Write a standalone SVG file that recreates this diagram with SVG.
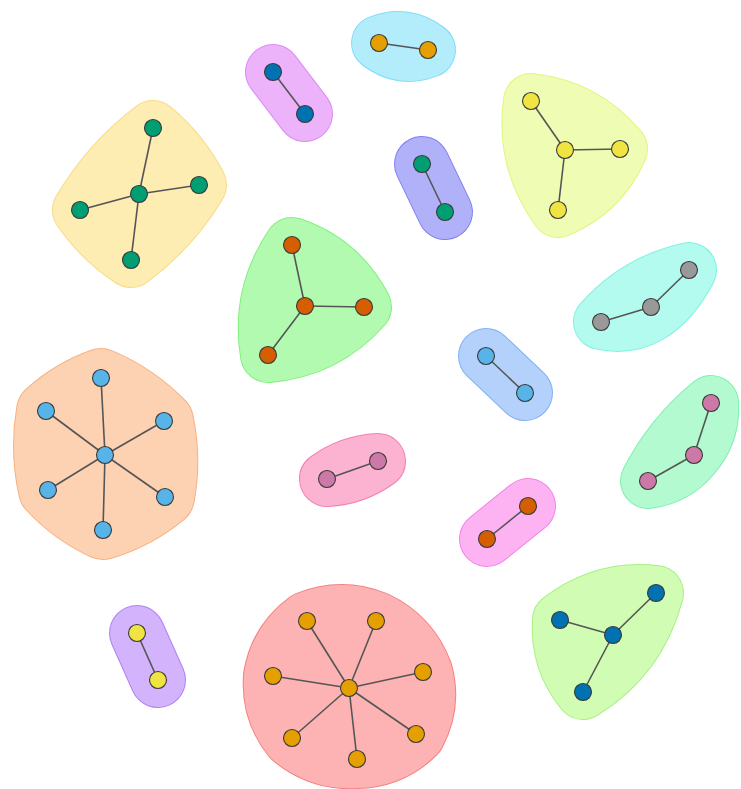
<svg xmlns="http://www.w3.org/2000/svg" width="741" height="789" viewBox="0 0 741 789">
<style>
.hb{fill:none;stroke-linejoin:round;stroke-linecap:round;stroke-width:56}
.hf{stroke-linejoin:round;stroke-linecap:round;stroke-width:54}
.big .hb{stroke-width:60}
.big .hf{stroke-width:58}
#edges line{stroke:#555;stroke-width:1.6}
.n circle{stroke:#3a3a3a;stroke-width:1.1}
.c1{fill:#009e73}.c2{fill:#0072b2}.c3{fill:#e69f00}.c4{fill:#f0e442}.c5{fill:#d55e00}.c6{fill:#56b4e9}.c7{fill:#cc79a7}.c8{fill:#999999}
</style>
<rect width="741" height="789" fill="#fff"/>
<g id="clusters">
<g id="h1"><path class="hb" stroke="#f8dc88" d="M153,128 Q181.7,151.9 199,185 Q172.4,229.2 131,260 Q100.5,240.1 80,210 Q108.3,161.7 153,128 Z"/><path class="hf" fill="#fdedb2" stroke="#fdedb2" d="M153,128 Q181.7,151.9 199,185 Q172.4,229.2 131,260 Q100.5,240.1 80,210 Q108.3,161.7 153,128 Z"/></g>
<g id="h2"><path class="hb" stroke="#dc8cf5" d="M273,72 L305,114 Z"/><path class="hf" fill="#ecb3fb" stroke="#ecb3fb" d="M273,72 L305,114 Z"/></g>
<g id="h3"><path class="hb" stroke="#80dcf8" d="M379,43 Q405.5,32.6 428,50 Q401.5,60.4 379,43 Z"/><path class="hf" fill="#b3edfc" stroke="#b3edfc" d="M379,43 Q405.5,32.6 428,50 Q401.5,60.4 379,43 Z"/></g>
<g id="h4"><path class="hb" stroke="#e2f580" d="M531,101 Q585.1,107.2 620,149 Q601.2,191.9 558,210 Q522.7,160.9 531,101 Z"/><path class="hf" fill="#effcb3" stroke="#effcb3" d="M531,101 Q585.1,107.2 620,149 Q601.2,191.9 558,210 Q522.7,160.9 531,101 Z"/></g>
<g id="h5"><path class="hb" stroke="#8080f0" d="M422,164 L445,212 Z"/><path class="hf" fill="#b1b1fa" stroke="#b1b1fa" d="M422,164 L445,212 Z"/></g>
<g id="h6"><path class="hb" stroke="#80f07e" d="M292,245 Q340.4,261.6 364,307 Q325.6,350.2 268,355 Q258,295.2 292,245 Z"/><path class="hf" fill="#b3fab1" stroke="#b3fab1" d="M292,245 Q340.4,261.6 364,307 Q325.6,350.2 268,355 Q258,295.2 292,245 Z"/></g>
<g id="h7"><path class="hb" stroke="#80f2e0" d="M601,322 Q636,282 689,270 Q655,334 601,322 Z"/><path class="hf" fill="#b3fbee" stroke="#b3fbee" d="M601,322 Q636,282 689,270 Q655,334 601,322 Z"/></g>
<g id="h8"><path class="hb" stroke="#80b0f5" d="M486,356 L525,393 Z"/><path class="hf" fill="#b3d1fb" stroke="#b3d1fb" d="M486,356 L525,393 Z"/></g>
<g id="h9" class="big"><path class="hb" stroke="#f8b080" d="M101,378 Q136.8,393.2 164,421 Q172.1,458.9 165,497 Q137.3,519.7 103,530 Q71.5,515.5 48,490 Q39.1,450.7 46,411 Q70.2,389 101,378 Z"/><path class="hf" fill="#fdd2b3" stroke="#fdd2b3" d="M101,378 Q136.8,393.2 164,421 Q172.1,458.9 165,497 Q137.3,519.7 103,530 Q71.5,515.5 48,490 Q39.1,450.7 46,411 Q70.2,389 101,378 Z"/></g>
<g id="h10"><path class="hb" stroke="#f580b3" d="M327,479 Q349.8,462.5 378,461 Q355.2,477.5 327,479 Z"/><path class="hf" fill="#fcb3d1" stroke="#fcb3d1" d="M327,479 Q349.8,462.5 378,461 Q355.2,477.5 327,479 Z"/></g>
<g id="h11"><path class="hb" stroke="#80f0b0" d="M711,403 Q713,432.4 694,455 Q676.2,477.2 648,481 Q671,436 711,403 Z"/><path class="hf" fill="#b3fad0" stroke="#b3fad0" d="M711,403 Q713,432.4 694,455 Q676.2,477.2 648,481 Q671,436 711,403 Z"/></g>
<g id="h12"><path class="hb" stroke="#f580e8" d="M487,539 L528,506 Z"/><path class="hf" fill="#fdb3f2" stroke="#fdb3f2" d="M487,539 L528,506 Z"/></g>
<g id="h13"><path class="hb" stroke="#b080f5" d="M137,633 L158,680 Z"/><path class="hf" fill="#d2b3fc" stroke="#d2b3fc" d="M137,633 L158,680 Z"/></g>
<g id="h14" class="big"><path class="hb" stroke="#f58080" d="M307,621 Q341.5,607.2 376,621 Q409.7,637.1 423,672 Q431.9,704.4 416,734 Q391.5,758.3 357,759 Q320.3,761.5 292,738 Q270.1,710.8 273,676 Q279,641.7 307,621 Z"/><path class="hf" fill="#fdb3b3" stroke="#fdb3b3" d="M307,621 Q341.5,607.2 376,621 Q409.7,637.1 423,672 Q431.9,704.4 416,734 Q391.5,758.3 357,759 Q320.3,761.5 292,738 Q270.1,710.8 273,676 Q279,641.7 307,621 Z"/></g>
<g id="h15"><path class="hb" stroke="#a8f080" d="M560,620 Q602.6,587.2 656,593 Q639.3,657.1 583,692 Q557.2,660.6 560,620 Z"/><path class="hf" fill="#d1fcb3" stroke="#d1fcb3" d="M560,620 Q602.6,587.2 656,593 Q639.3,657.1 583,692 Q557.2,660.6 560,620 Z"/></g>
</g>
<g id="edges">
<line x1="139" y1="194" x2="153" y2="128"/><line x1="139" y1="194" x2="199" y2="185"/><line x1="139" y1="194" x2="80" y2="210"/><line x1="139" y1="194" x2="131" y2="260"/>
<line x1="273" y1="72" x2="305" y2="114"/>
<line x1="379" y1="43" x2="428" y2="50"/>
<line x1="565" y1="150" x2="531" y2="101"/><line x1="565" y1="150" x2="620" y2="149"/><line x1="565" y1="150" x2="558" y2="210"/>
<line x1="422" y1="164" x2="445" y2="212"/>
<line x1="305" y1="306" x2="292" y2="245"/><line x1="305" y1="306" x2="364" y2="307"/><line x1="305" y1="306" x2="268" y2="355"/>
<line x1="601" y1="322" x2="651" y2="307"/><line x1="651" y1="307" x2="689" y2="270"/>
<line x1="486" y1="356" x2="525" y2="393"/>
<line x1="105" y1="455" x2="101" y2="378"/><line x1="105" y1="455" x2="46" y2="411"/><line x1="105" y1="455" x2="164" y2="421"/><line x1="105" y1="455" x2="48" y2="490"/><line x1="105" y1="455" x2="165" y2="497"/><line x1="105" y1="455" x2="103" y2="530"/>
<line x1="327" y1="479" x2="378" y2="461"/>
<line x1="711" y1="403" x2="694" y2="455"/><line x1="694" y1="455" x2="648" y2="481"/>
<line x1="487" y1="539" x2="528" y2="506"/>
<line x1="137" y1="633" x2="158" y2="680"/>
<line x1="349" y1="688" x2="307" y2="621"/><line x1="349" y1="688" x2="376" y2="621"/><line x1="349" y1="688" x2="423" y2="672"/><line x1="349" y1="688" x2="273" y2="676"/><line x1="349" y1="688" x2="292" y2="738"/><line x1="349" y1="688" x2="357" y2="759"/><line x1="349" y1="688" x2="416" y2="734"/>
<line x1="613" y1="635" x2="560" y2="620"/><line x1="613" y1="635" x2="656" y2="593"/><line x1="613" y1="635" x2="583" y2="692"/>
</g>
<g id="nodes">
<g id="n1" class="n"><circle class="c1" cx="139" cy="194" r="8.5"/></g>
<g id="n2" class="n"><circle class="c1" cx="153" cy="128" r="8.5"/></g>
<g id="n3" class="n"><circle class="c1" cx="199" cy="185" r="8.5"/></g>
<g id="n4" class="n"><circle class="c1" cx="80" cy="210" r="8.5"/></g>
<g id="n5" class="n"><circle class="c1" cx="131" cy="260" r="8.5"/></g>
<g id="n6" class="n"><circle class="c2" cx="273" cy="72" r="8.5"/></g>
<g id="n7" class="n"><circle class="c2" cx="305" cy="114" r="8.5"/></g>
<g id="n8" class="n"><circle class="c3" cx="379" cy="43" r="8.5"/></g>
<g id="n9" class="n"><circle class="c3" cx="428" cy="50" r="8.5"/></g>
<g id="n10" class="n"><circle class="c4" cx="565" cy="150" r="8.5"/></g>
<g id="n11" class="n"><circle class="c4" cx="531" cy="101" r="8.5"/></g>
<g id="n12" class="n"><circle class="c4" cx="620" cy="149" r="8.5"/></g>
<g id="n13" class="n"><circle class="c4" cx="558" cy="210" r="8.5"/></g>
<g id="n14" class="n"><circle class="c1" cx="422" cy="164" r="8.5"/></g>
<g id="n15" class="n"><circle class="c1" cx="445" cy="212" r="8.5"/></g>
<g id="n16" class="n"><circle class="c5" cx="305" cy="306" r="8.5"/></g>
<g id="n17" class="n"><circle class="c5" cx="292" cy="245" r="8.5"/></g>
<g id="n18" class="n"><circle class="c5" cx="364" cy="307" r="8.5"/></g>
<g id="n19" class="n"><circle class="c5" cx="268" cy="355" r="8.5"/></g>
<g id="n20" class="n"><circle class="c8" cx="601" cy="322" r="8.5"/></g>
<g id="n21" class="n"><circle class="c8" cx="651" cy="307" r="8.5"/></g>
<g id="n22" class="n"><circle class="c8" cx="689" cy="270" r="8.5"/></g>
<g id="n23" class="n"><circle class="c6" cx="486" cy="356" r="8.5"/></g>
<g id="n24" class="n"><circle class="c6" cx="525" cy="393" r="8.5"/></g>
<g id="n25" class="n"><circle class="c6" cx="105" cy="455" r="8.5"/></g>
<g id="n26" class="n"><circle class="c6" cx="101" cy="378" r="8.5"/></g>
<g id="n27" class="n"><circle class="c6" cx="46" cy="411" r="8.5"/></g>
<g id="n28" class="n"><circle class="c6" cx="164" cy="421" r="8.5"/></g>
<g id="n29" class="n"><circle class="c6" cx="48" cy="490" r="8.5"/></g>
<g id="n30" class="n"><circle class="c6" cx="165" cy="497" r="8.5"/></g>
<g id="n31" class="n"><circle class="c6" cx="103" cy="530" r="8.5"/></g>
<g id="n32" class="n"><circle class="c7" cx="327" cy="479" r="8.5"/></g>
<g id="n33" class="n"><circle class="c7" cx="378" cy="461" r="8.5"/></g>
<g id="n34" class="n"><circle class="c7" cx="711" cy="403" r="8.5"/></g>
<g id="n35" class="n"><circle class="c7" cx="694" cy="455" r="8.5"/></g>
<g id="n36" class="n"><circle class="c7" cx="648" cy="481" r="8.5"/></g>
<g id="n37" class="n"><circle class="c5" cx="487" cy="539" r="8.5"/></g>
<g id="n38" class="n"><circle class="c5" cx="528" cy="506" r="8.5"/></g>
<g id="n39" class="n"><circle class="c4" cx="137" cy="633" r="8.5"/></g>
<g id="n40" class="n"><circle class="c4" cx="158" cy="680" r="8.5"/></g>
<g id="n41" class="n"><circle class="c3" cx="349" cy="688" r="8.5"/></g>
<g id="n42" class="n"><circle class="c3" cx="307" cy="621" r="8.5"/></g>
<g id="n43" class="n"><circle class="c3" cx="376" cy="621" r="8.5"/></g>
<g id="n44" class="n"><circle class="c3" cx="423" cy="672" r="8.5"/></g>
<g id="n45" class="n"><circle class="c3" cx="273" cy="676" r="8.5"/></g>
<g id="n46" class="n"><circle class="c3" cx="292" cy="738" r="8.5"/></g>
<g id="n47" class="n"><circle class="c3" cx="357" cy="759" r="8.5"/></g>
<g id="n48" class="n"><circle class="c3" cx="416" cy="734" r="8.5"/></g>
<g id="n49" class="n"><circle class="c2" cx="613" cy="635" r="8.5"/></g>
<g id="n50" class="n"><circle class="c2" cx="560" cy="620" r="8.5"/></g>
<g id="n51" class="n"><circle class="c2" cx="656" cy="593" r="8.5"/></g>
<g id="n52" class="n"><circle class="c2" cx="583" cy="692" r="8.5"/></g>
</g>
</svg>
